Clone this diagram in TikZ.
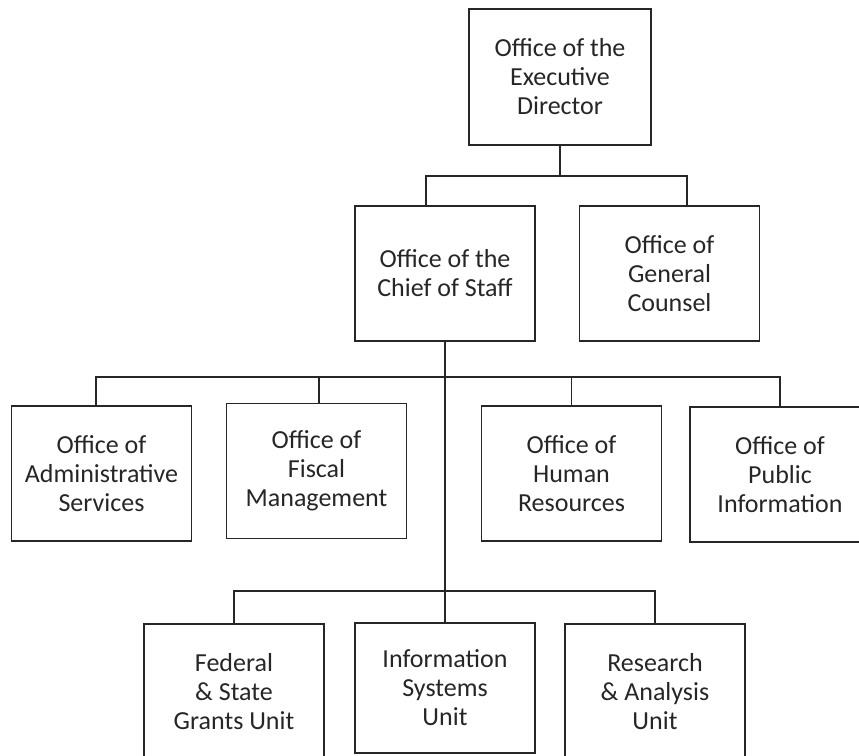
\documentclass[tikz,border=0pt]{standalone}
\usepackage{fontspec}
\setmainfont{Carlito}
\usepackage{tikz}
\usetikzlibrary{positioning}

\begin{document}
\begin{tikzpicture}[x=1pt, y=1pt,
    office/.style={draw=black!85, line width=1.8pt, align=center,
        minimum width=180pt, minimum height=135pt, inner sep=0pt,
        font=\fontsize{26}{29}\selectfont, text=black!85},
    link/.style={draw=black!85, line width=1.8pt}]
    \useasboundingbox (0,0) rectangle (859,755);

    % top
    \node[office, minimum width=182pt, minimum height=136pt] (exec) at (560,678) {Office of the\\Executive\\Director};

    % second level
    \node[office] (chief) at (445,481.5) {Office of the\\Chief of Staff};
    \node[office] (gc) at (669.5,481.5) {Office of\\General\\Counsel};

    % offices
    \node[office] (admin) at (101.5,281.5) {Office of\\Administrative\\Services};
    \node[office] (fiscal) at (316.5,284) {Office of\\Fiscal\\Management};
    \node[office] (human) at (571.5,281.5) {Office of\\Human\\Resources};
    \node[office] (public) at (780,280.5) {Office of\\Public\\Information};

    % units
    \node[office] (federal) at (234,63.5) {Federal\\\& State\\Grants Unit};
    \node[office, minimum height=130pt] (info) at (445,67) {Information\\Systems\\Unit};
    \node[office] (research) at (655,63.5) {Research\\\& Analysis\\Unit};

    \draw[link] (exec.south) -- ++(0,-30) coordinate (bus1);
    \draw[link] (bus1) -| ([xshift=-19pt]chief.north);
    \draw[link] (bus1) -| ([xshift=17.5pt]gc.north);

    \draw[link] (chief.south) -- ++(0,-35) coordinate (bus2);
    \draw[link] (bus2) -| ([xshift=-5.5pt]admin.north);
    \draw[link] (bus2) -| ([xshift=2.5pt]fiscal.north);
    \draw[link] (bus2) -| (human.north);
    \draw[link] (bus2) -| (public.north);

    \draw[link] (bus2) -- (info.north);
    \path (info.north) ++(0,31) coordinate (bus3);
    \draw[link] (bus3) -| (federal.north);
    \draw[link] (bus3) -| (research.north);
\end{tikzpicture}
\end{document}
